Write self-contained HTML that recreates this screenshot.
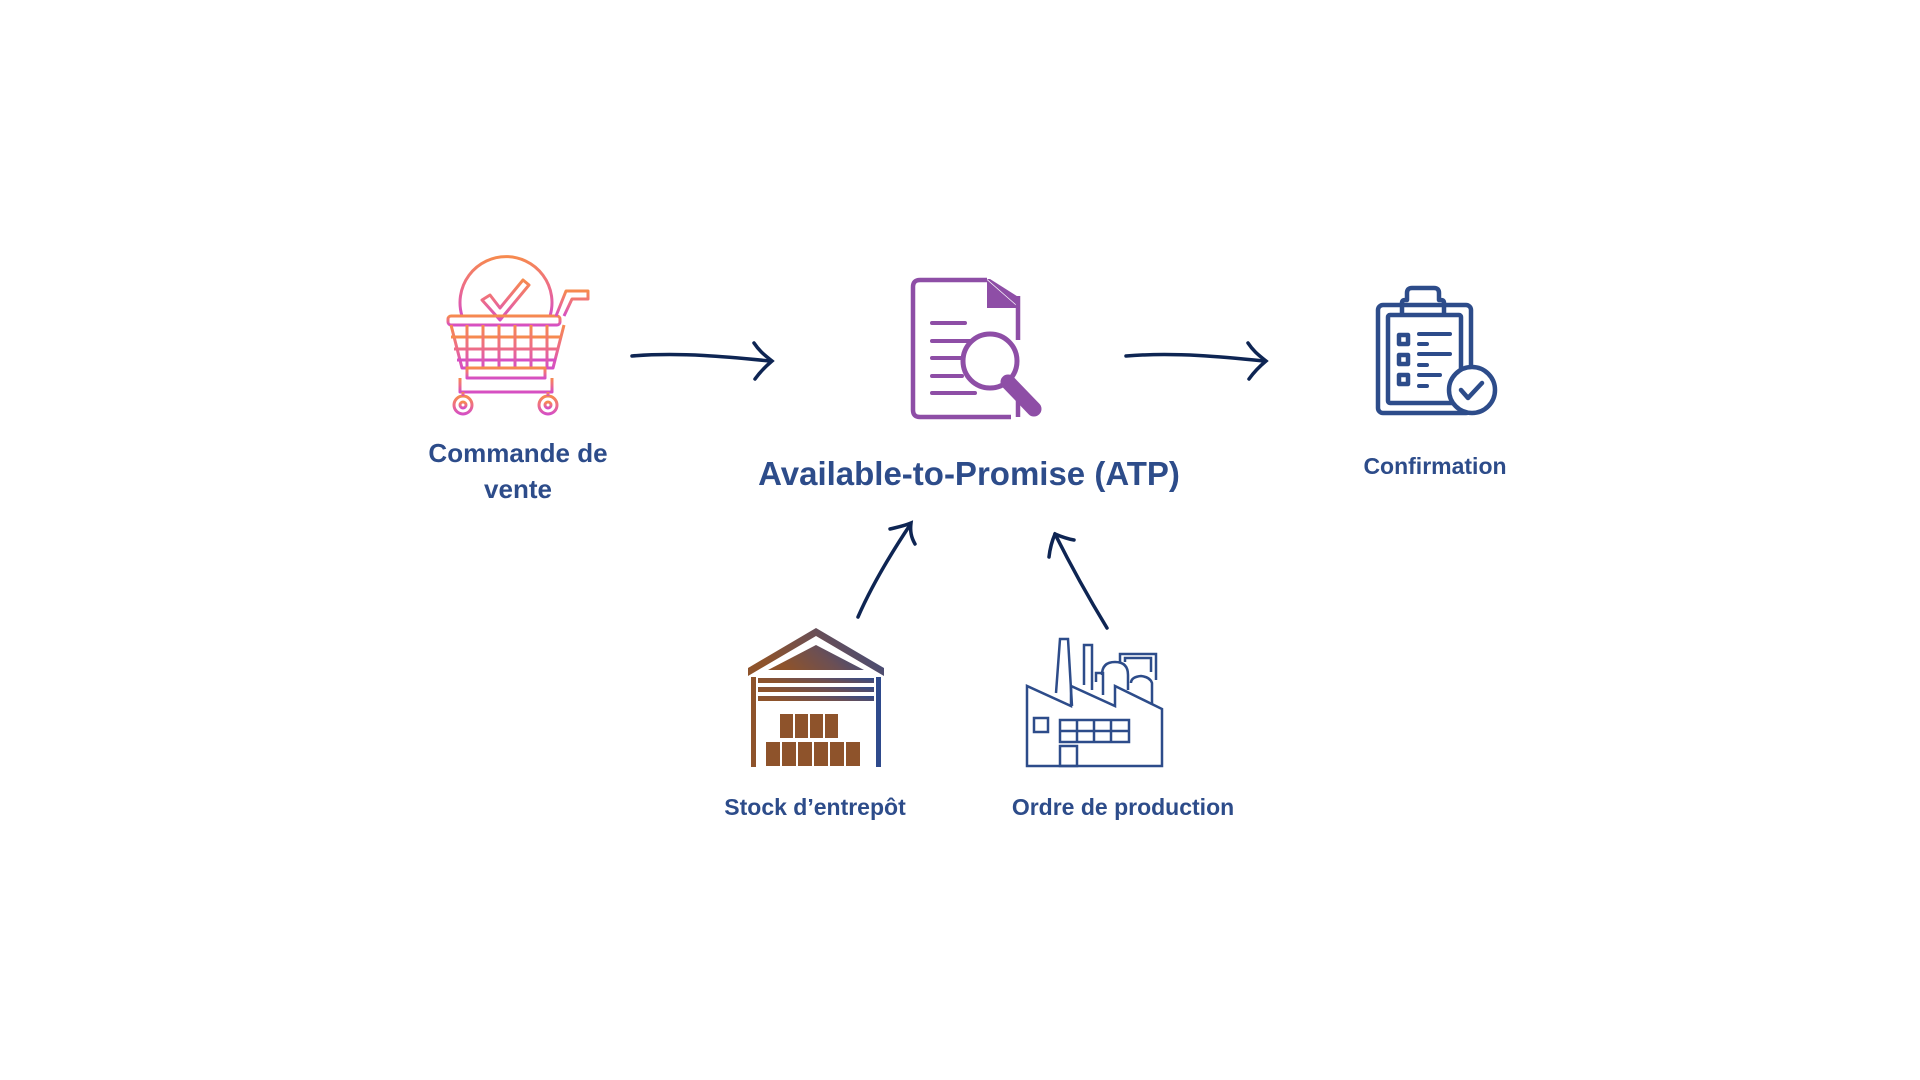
<!DOCTYPE html>
<html><head><meta charset="utf-8"><style>
html,body{margin:0;padding:0;background:#fff;width:1920px;height:1080px;overflow:hidden}
svg{display:block}
text{font-family:"Liberation Sans",sans-serif;font-weight:bold;fill:#2d4c8a}
</style></head><body>
<svg width="1920" height="1080" viewBox="0 0 1920 1080" xmlns="http://www.w3.org/2000/svg">
<defs>
<linearGradient id="cg" x1="0" y1="0" x2="0" y2="1">
<stop offset="0" stop-color="#f68a4e"/><stop offset="0.5" stop-color="#ee6e86"/><stop offset="1" stop-color="#d54fc4"/>
</linearGradient>
<linearGradient id="wg" x1="0" y1="0.3" x2="1" y2="0">
<stop offset="0" stop-color="#8e532b"/><stop offset="0.5" stop-color="#6b4f55"/><stop offset="1" stop-color="#2e4a8c"/>
</linearGradient>
</defs>

<!-- Cart -->
<g fill="none" stroke="url(#cg)" stroke-width="3" stroke-linejoin="round">
<path d="M462 316 A46 46 0 1 1 550 316"/>
<path d="M482 300 l8 -5 l10 13 l23 -28 l6 5 l-29 35 z"/>
<rect x="448" y="316" width="112" height="9" rx="3"/>
<path d="M451 325 L462 368 L553 368 L564 325"/>
<path d="M451 337 H561 M454 349 H558 M457 360 H556"/>
<path d="M467 325 V368 M483 325 V368 M499 325 V368 M515 325 V368 M531 325 V368 M547 325 V368"/>
<rect x="467" y="368" width="78" height="10"/>
<path d="M460 378 V392 H552 V378"/>
<path d="M556 316 L566 291 H588 V299 H572 L564 316"/>
<circle cx="463" cy="405" r="9"/><circle cx="463" cy="405" r="3"/>
<circle cx="548" cy="405" r="9"/><circle cx="548" cy="405" r="3"/>
<path d="M463 392 V396 M548 392 V396"/>
</g>

<!-- Arrow 1 -->
<g fill="none" stroke="#0e2553" stroke-width="3.5" stroke-linecap="round">
<path d="M632 356 C680 352 730 357 770 361"/>
<path d="M754 343 C760 352 766 356 772 361 C766 366 760 372 755 379"/>
</g>

<!-- Document -->
<g fill="none" stroke="#8e4ea6" stroke-width="4.5">
<path d="M987 280 H920 Q913 280 913 287 V410 Q913 417 920 417 H1011"/>
<path d="M1018 296 V340"/>
<path d="M1018 398 V417"/>
</g>
<path d="M987 279 L1020 308 V298 L990 279 Z" fill="#8e4ea6"/>
<path d="M987 280 V308 H1019 Z" fill="#8e4ea6"/>
<g stroke="#8e4ea6" stroke-width="4" stroke-linecap="round">
<path d="M932 323 H965 M932 341 H978 M932 358 H962 M932 376 H962 M932 393 H975"/>
</g>
<circle cx="990" cy="361" r="27" fill="#fff" stroke="#8e4ea6" stroke-width="5"/>
<path d="M1008 382 L1034 409" stroke="#8e4ea6" stroke-width="15" stroke-linecap="round"/>

<text x="969" y="485" font-size="33" text-anchor="middle">Available-to-Promise (ATP)</text>
<text x="518" y="462" font-size="26" text-anchor="middle">Commande de</text>
<text x="518" y="498" font-size="26" text-anchor="middle">vente</text>

<!-- Arrow 2 -->
<g fill="none" stroke="#0e2553" stroke-width="3.5" stroke-linecap="round">
<path d="M1126 356 C1175 352 1225 357 1264 361"/>
<path d="M1248 343 C1254 352 1260 356 1266 361 C1260 366 1254 372 1249 379"/>
</g>

<!-- Clipboard -->
<g fill="none" stroke="#2d4c8a" stroke-width="4.5" stroke-linejoin="round">
<rect x="1378" y="305" width="93" height="108" rx="5"/>
<rect x="1388" y="315" width="73" height="88" rx="2"/>
<path d="M1402 315 V303 Q1402 300 1405 300 H1407 V293 Q1407 288 1412 288 H1434 Q1439 288 1439 293 V300 H1441 Q1444 300 1444 303 V315"/>
<rect x="1399" y="335" width="9" height="9"/><rect x="1399" y="355" width="9" height="9"/><rect x="1399" y="375" width="9" height="9"/>
</g>
<g stroke="#2d4c8a" stroke-width="4" stroke-linecap="round">
<path d="M1419 334 H1450 M1419 344 H1427 M1419 354 H1450 M1419 365 H1427 M1419 375 H1440 M1419 386 H1427"/>
</g>
<circle cx="1472" cy="390" r="23" fill="#fff" stroke="#2d4c8a" stroke-width="4.5"/>
<path d="M1461 390 L1468 398 L1482 383" fill="none" stroke="#2d4c8a" stroke-width="4.5" stroke-linecap="round" stroke-linejoin="round"/>
<text x="1435" y="474" font-size="23" text-anchor="middle">Confirmation</text>

<!-- Up arrows -->
<g fill="none" stroke="#0e2553" stroke-width="3.5" stroke-linecap="round">
<path d="M858 617 C872 585 890 555 910 525"/>
<path d="M890 529 C898 527 904 526 911 523 C910 531 911 537 915 544"/>
<path d="M1107 628 C1090 600 1073 570 1055 534"/>
<path d="M1049 557 C1050 548 1052 541 1055 534 C1062 537 1068 539 1074 540"/>
</g>

<!-- Warehouse -->
<path d="M748 676 L816 636 L884 676 V668 L816 628 L748 668 Z" fill="url(#wg)"/>
<path d="M768 670 L816 645 L864 670 Z" fill="url(#wg)"/>
<rect x="751" y="677" width="5" height="90" fill="#8e532b"/>
<rect x="876" y="677" width="5" height="90" fill="#2e4a8c"/>
<rect x="758" y="678" width="116" height="5" fill="url(#wg)"/>
<rect x="758" y="687" width="116" height="5" fill="url(#wg)"/>
<rect x="758" y="696" width="116" height="5" fill="url(#wg)"/>
<g fill="#8e532b">
<rect x="780" y="714" width="13" height="24"/><rect x="795" y="714" width="13" height="24"/><rect x="810" y="714" width="13" height="24"/><rect x="825" y="714" width="13" height="24"/>
<rect x="766" y="742" width="14" height="24"/><rect x="782" y="742" width="14" height="24"/><rect x="798" y="742" width="14" height="24"/><rect x="814" y="742" width="14" height="24"/><rect x="830" y="742" width="14" height="24"/><rect x="846" y="742" width="14" height="24"/>
</g>
<text x="815" y="815" font-size="23" text-anchor="middle">Stock d’entrepôt</text>

<!-- Factory -->
<g fill="none" stroke="#2d4c8a" stroke-width="2.5">
<path d="M1027 766 V686 L1071 706 V686 L1115 706 V686 L1162 709 V766 Z"/>
<path d="M1056 693 L1060 639 H1068 L1072 706"/>
<path d="M1084 685 V645 H1092 V690"/>
<path d="M1096 682 V673 H1103 V695"/>
<path d="M1102 675 Q1102 662 1115 662 Q1128 662 1128 675 V690"/>
<path d="M1120 662 V654 H1156 V680 M1125 662 V658 H1151 V672"/>
<path d="M1131 683 Q1131 677 1141 676 Q1150 677 1152 683 V705"/>
<rect x="1034" y="718" width="14" height="14"/>
<rect x="1060" y="720" width="69" height="22"/>
<path d="M1060 731 H1129 M1077 720 V742 M1094 720 V742 M1111 720 V742"/>
<rect x="1060" y="746" width="17" height="20"/>
</g>
<text x="1123" y="815" font-size="23" text-anchor="middle">Ordre de production</text>
</svg>
</body></html>
